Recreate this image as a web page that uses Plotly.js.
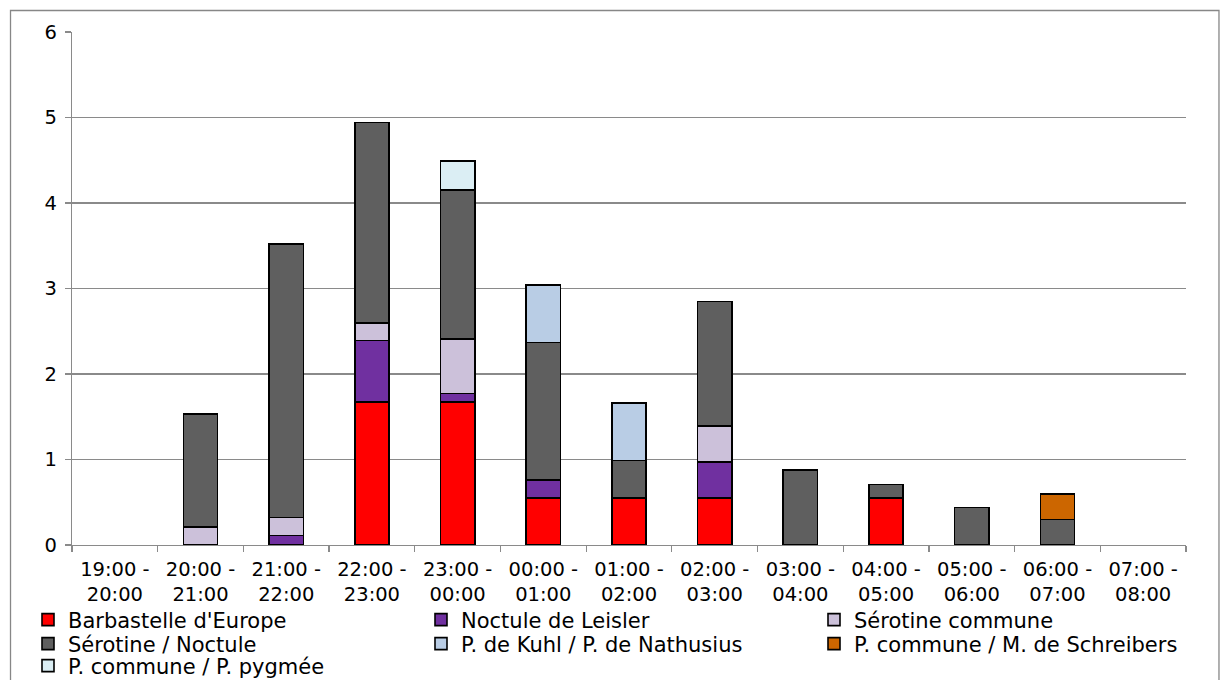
<!DOCTYPE html>
<html>
<head>
<meta charset="utf-8">
<script src="https://cdn.plot.ly/plotly-3.0.1.min.js"></script>
<style>
  html, body { margin: 0; padding: 0; background: #ffffff; }
  #chart { width: 1221px; height: 680px; }
</style>
</head>
<body>
<div id="chart"></div>
<script>
// Time slots (categories)
const categories = [
  "19:00 -<br>20:00", "20:00 -<br>21:00", "21:00 -<br>22:00", "22:00 -<br>23:00",
  "23:00 -<br>00:00", "00:00 -<br>01:00", "01:00 -<br>02:00", "02:00 -<br>03:00",
  "03:00 -<br>04:00", "04:00 -<br>05:00", "05:00 -<br>06:00", "06:00 -<br>07:00",
  "07:00 -<br>08:00"
];

// Series values (stacked); null = no contact in that slot
const barbastelle   = [null, null, null, 1.67, 1.67, 0.55, 0.55, 0.55, null, 0.55, null, null, null];
const noctuleLeisler= [null, null, 0.11, 0.72, 0.10, 0.21, null, 0.42, null, null, null, null, null];
const serotineComm  = [null, 0.21, 0.21, 0.21, 0.64, null, null, 0.42, null, null, null, null, null];
const serotineNoct  = [null, 1.32, 3.20, 2.34, 1.74, 1.61, 0.44, 1.46, 0.88, 0.16, 0.44, 0.30, null];
const kuhlNathusius = [null, null, null, null, null, 0.67, 0.67, null, null, null, null, null, null];
const communeSchreib= [null, null, null, null, null, null, null, null, null, null, null, 0.30, null];
const communePygmee = [null, null, null, null, 0.34, null, null, null, null, null, null, null, null];

const seriesNames = [
  "Barbastelle d'Europe", "Noctule de Leisler", "Sérotine commune",
  "Sérotine / Noctule", "P. de Kuhl / P. de Nathusius",
  "P. commune / M. de Schreibers", "P. commune / P. pygmée"
];
const seriesValues = [barbastelle, noctuleLeisler, serotineComm, serotineNoct,
                      kuhlNathusius, communeSchreib, communePygmee];
const seriesColors = ["#FF0000", "#7030A0", "#CCC1DA", "#5F5F5F", "#B9CDE5", "#CC6600", "#DBEEF4"];
// legend row each series appears in (3 entries per row)
const legendRows = ["legend", "legend", "legend", "legend2", "legend2", "legend2", "legend3"];

const traces = seriesNames.map((name, i) => ({
  type: "bar",
  name: name,
  x: categories,
  y: seriesValues[i],
  width: 0.4,
  legend: legendRows[i],
  marker: { color: seriesColors[i], line: { color: "#000000", width: 1.6 } },
  hoverinfo: "x+y+name"
}));

const FONT = "Verdana, 'DejaVu Sans', sans-serif";

function legendAt(yPaper) {
  return {
    orientation: "h",
    traceorder: "normal",
    x: -0.0395,
    xanchor: "left",
    y: yPaper,
    yanchor: "middle",
    entrywidth: 348,
    entrywidthmode: "pixels",
    font: { family: FONT, size: 21, color: "#000000" },
    bgcolor: "rgba(0,0,0,0)",
    borderwidth: 0
  };
}

const layout = {
  width: 1221,
  height: 680,
  margin: { l: 72, r: 35, t: 32, b: 135, autoexpand: false },
  paper_bgcolor: "#ffffff",
  plot_bgcolor: "#ffffff",
  barmode: "stack",
  font: { family: FONT, size: 19.5, color: "#000000" },
  xaxis: {
    type: "category",
    showline: true,
    linecolor: "#8a8a8a",
    linewidth: 1.3,
    ticks: "outside",
    tickson: "boundaries",
    ticklen: 6,
    tickcolor: "#8a8a8a",
    tickwidth: 1.3,
    showgrid: false,
    zeroline: false,
    tickangle: 0,
    ticklabelstandoff: 6,
    tickfont: { family: FONT, size: 19.5, color: "#000000" },
    fixedrange: true
  },
  yaxis: {
    range: [0, 6],
    dtick: 1,
    tick0: 0,
    showline: true,
    linecolor: "#8a8a8a",
    linewidth: 1.3,
    ticks: "outside",
    ticklen: 6,
    tickcolor: "#8a8a8a",
    tickwidth: 1.3,
    showgrid: true,
    gridcolor: "#8a8a8a",
    gridwidth: 1.3,
    zeroline: false,
    tickfont: { family: FONT, size: 19.5, color: "#000000" },
    ticklabelstandoff: 4,
    fixedrange: true
  },
  showlegend: true,
  legend: legendAt(-0.1462),
  legend2: legendAt(-0.1930),
  legend3: legendAt(-0.2359),
  shapes: [{
    type: "rect",
    xref: "paper", yref: "paper",
    x0: -0.0552, x1: 1.0296, y0: -0.32, y1: 1.0419,
    line: { color: "#878787", width: 1.3 },
    fillcolor: "rgba(0,0,0,0)",
    layer: "below"
  }]
};

Plotly.newPlot("chart", traces, layout, { displayModeBar: false, staticPlot: true });
</script>
</body>
</html>
